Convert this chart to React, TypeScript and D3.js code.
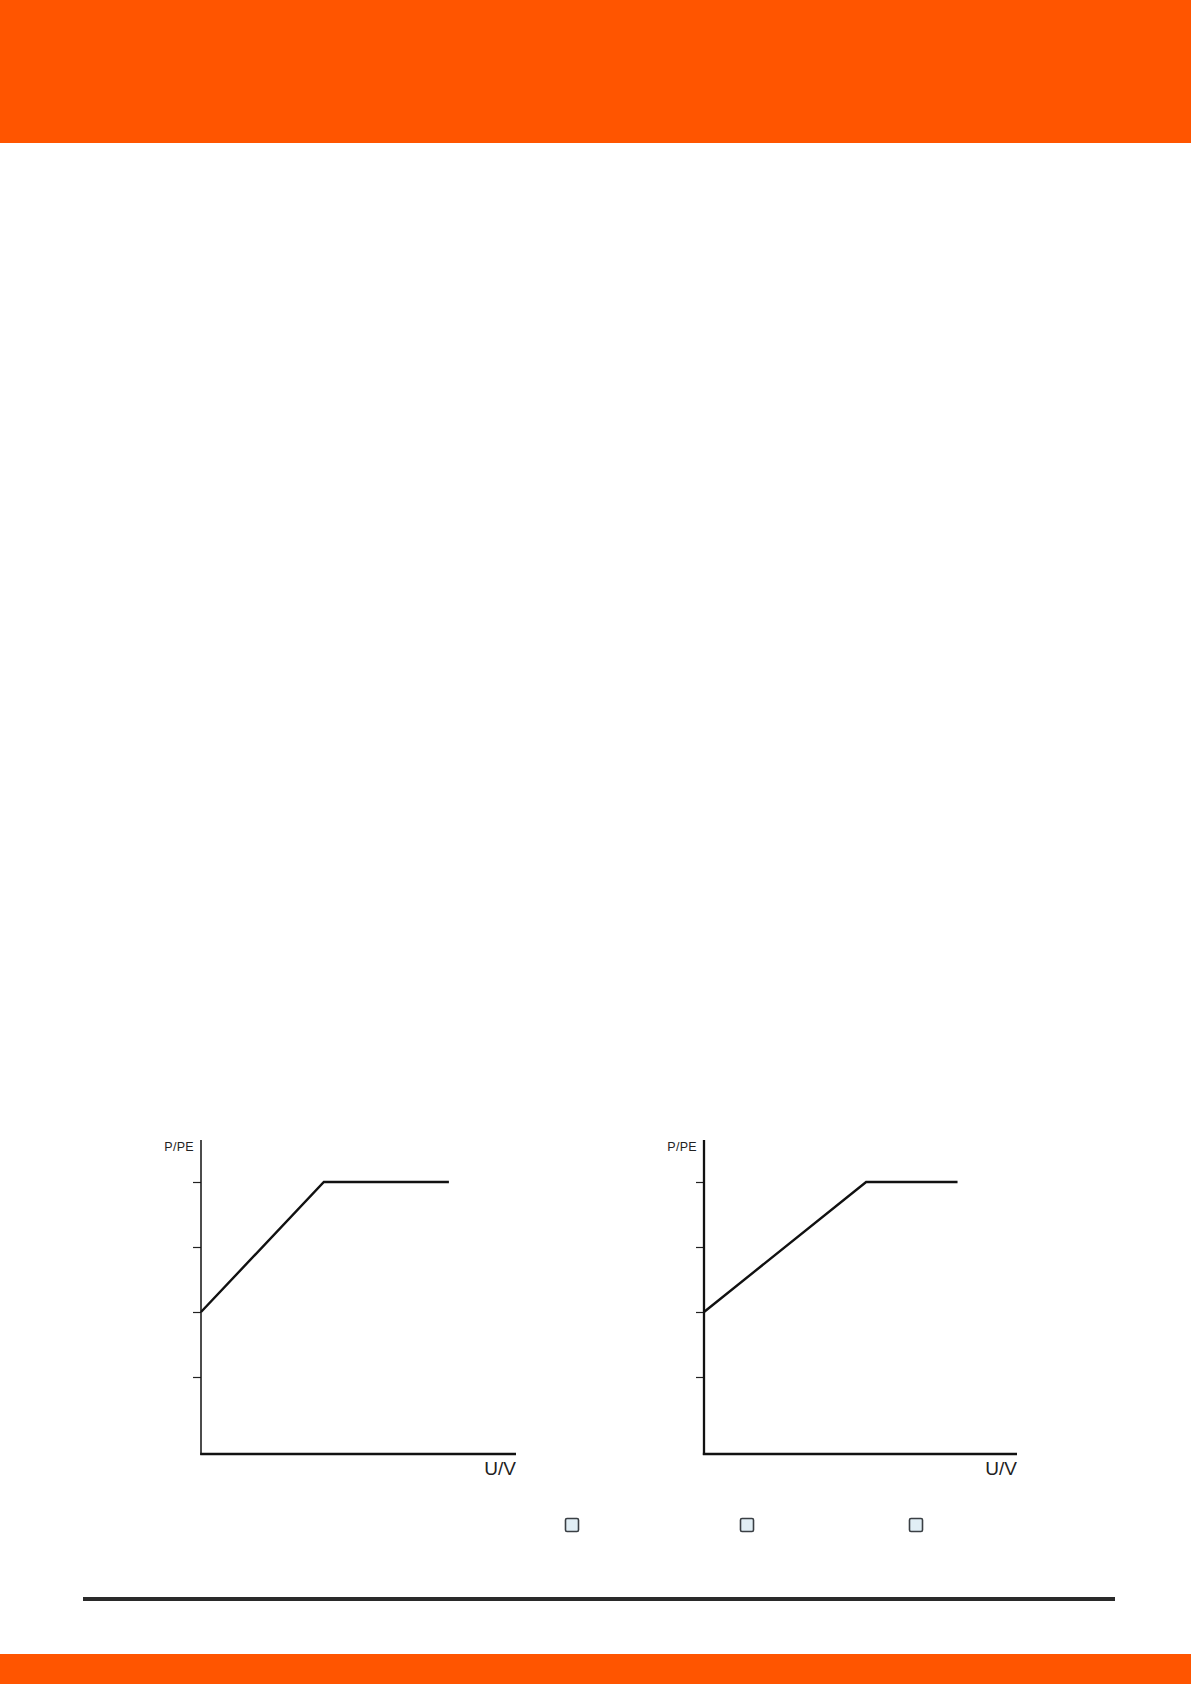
import React, { useEffect, useRef } from "react";
import * as d3 from "d3";

// y ticks (P/PE, no labels)
const yTicks = [0.25, 0.5, 0.75, 1.0];

// left chart curve
const leftU = [0, 0.39, 0.787];
const leftP = [0.5, 1.0, 1.0];

// right chart curve
const rightU = [0, 0.518, 0.81];
const rightP = [0.5, 1.0, 1.0];

const yLabel = "P/PE";
const xLabel = "U/V";

const checkboxes = ["a", "b", "c"];

const W = 1191;
const H = 1684;
const ORANGE = "#ff5500";

export default function App() {
  const svgRef = useRef<SVGSVGElement>(null);

  useEffect(() => {
    const svg = d3.select(svgRef.current);
    svg.selectAll("*").remove();

    // header / footer bands
    svg.append("rect").attr("x", 0).attr("y", 0).attr("width", W).attr("height", 143).attr("fill", ORANGE);
    svg.append("rect").attr("x", 0).attr("y", 1654).attr("width", W).attr("height", H - 1654).attr("fill", ORANGE);

    // horizontal rule
    svg.append("rect").attr("x", 83).attr("y", 1597).attr("width", 1115 - 83).attr("height", 4).attr("fill", "#2a2a2a");

    const yScale = d3.scaleLinear().domain([0, 1]).range([1442, 1182]);
    const top = 1140;
    const bottom = 1454;

    const drawChart = (x0: number, x1: number, us: number[], ps: number[], yAxisW: number) => {
      const xScale = d3.scaleLinear().domain([0, 1]).range([x0, x1]);
      const g = svg.append("g");

      // ticks
      const axis = d3.axisLeft(yScale).tickValues(yTicks).tickSize(8).tickFormat(() => "");
      const ag = g.append("g").attr("transform", `translate(${x0},0)`).call(axis);
      ag.select(".domain").remove();
      ag.selectAll(".tick line").attr("stroke", "#222").attr("stroke-width", 1.2);

      // axes
      g.append("line")
        .attr("x1", x0).attr("x2", x0).attr("y1", top).attr("y2", bottom + 1)
        .attr("stroke", "#111").attr("stroke-width", yAxisW);
      g.append("line")
        .attr("x1", x0 - yAxisW / 2).attr("x2", x1).attr("y1", bottom).attr("y2", bottom)
        .attr("stroke", "#111").attr("stroke-width", 2.3);

      // curve
      const pts = us.map((u, i) => [u, ps[i]] as [number, number]);
      const line = d3.line<[number, number]>()
        .x((d) => xScale(d[0]))
        .y((d) => yScale(d[1]));
      g.append("path")
        .attr("d", line(pts))
        .attr("fill", "none")
        .attr("stroke", "#111")
        .attr("stroke-width", 2.4)
        .attr("stroke-linejoin", "miter");

      // labels
      g.append("text")
        .attr("x", x0 - 7).attr("y", 1151)
        .attr("text-anchor", "end")
        .attr("font-family", "Liberation Sans, Arial, sans-serif")
        .attr("font-size", 12.5)
        .attr("letter-spacing", 0.3)
        .attr("fill", "#222")
        .text(yLabel);
      g.append("text")
        .attr("x", x1).attr("y", 1475)
        .attr("text-anchor", "end")
        .attr("font-family", "Liberation Sans, Arial, sans-serif")
        .attr("font-size", 19)
        .attr("fill", "#222")
        .text(xLabel);
    };

    drawChart(201, 516, leftU, leftP, 1.5);
    drawChart(704, 1017, rightU, rightP, 2.3);

    // checkboxes
    const boxX = [572, 747, 916];
    svg.append("g")
      .selectAll("rect")
      .data(checkboxes)
      .join("rect")
      .attr("x", (_, i) => boxX[i] - 6.5)
      .attr("y", 1525 - 6.5)
      .attr("width", 13)
      .attr("height", 13)
      .attr("rx", 1.5)
      .attr("fill", "#e1eef5")
      .attr("stroke", "#3a3f44")
      .attr("stroke-width", 1.6);
  }, []);

  return (
    <svg
      ref={svgRef}
      width={W}
      height={H}
      style={{ position: "absolute", left: 0, top: 0, background: "#fff" }}
    ></svg>
  );
}
